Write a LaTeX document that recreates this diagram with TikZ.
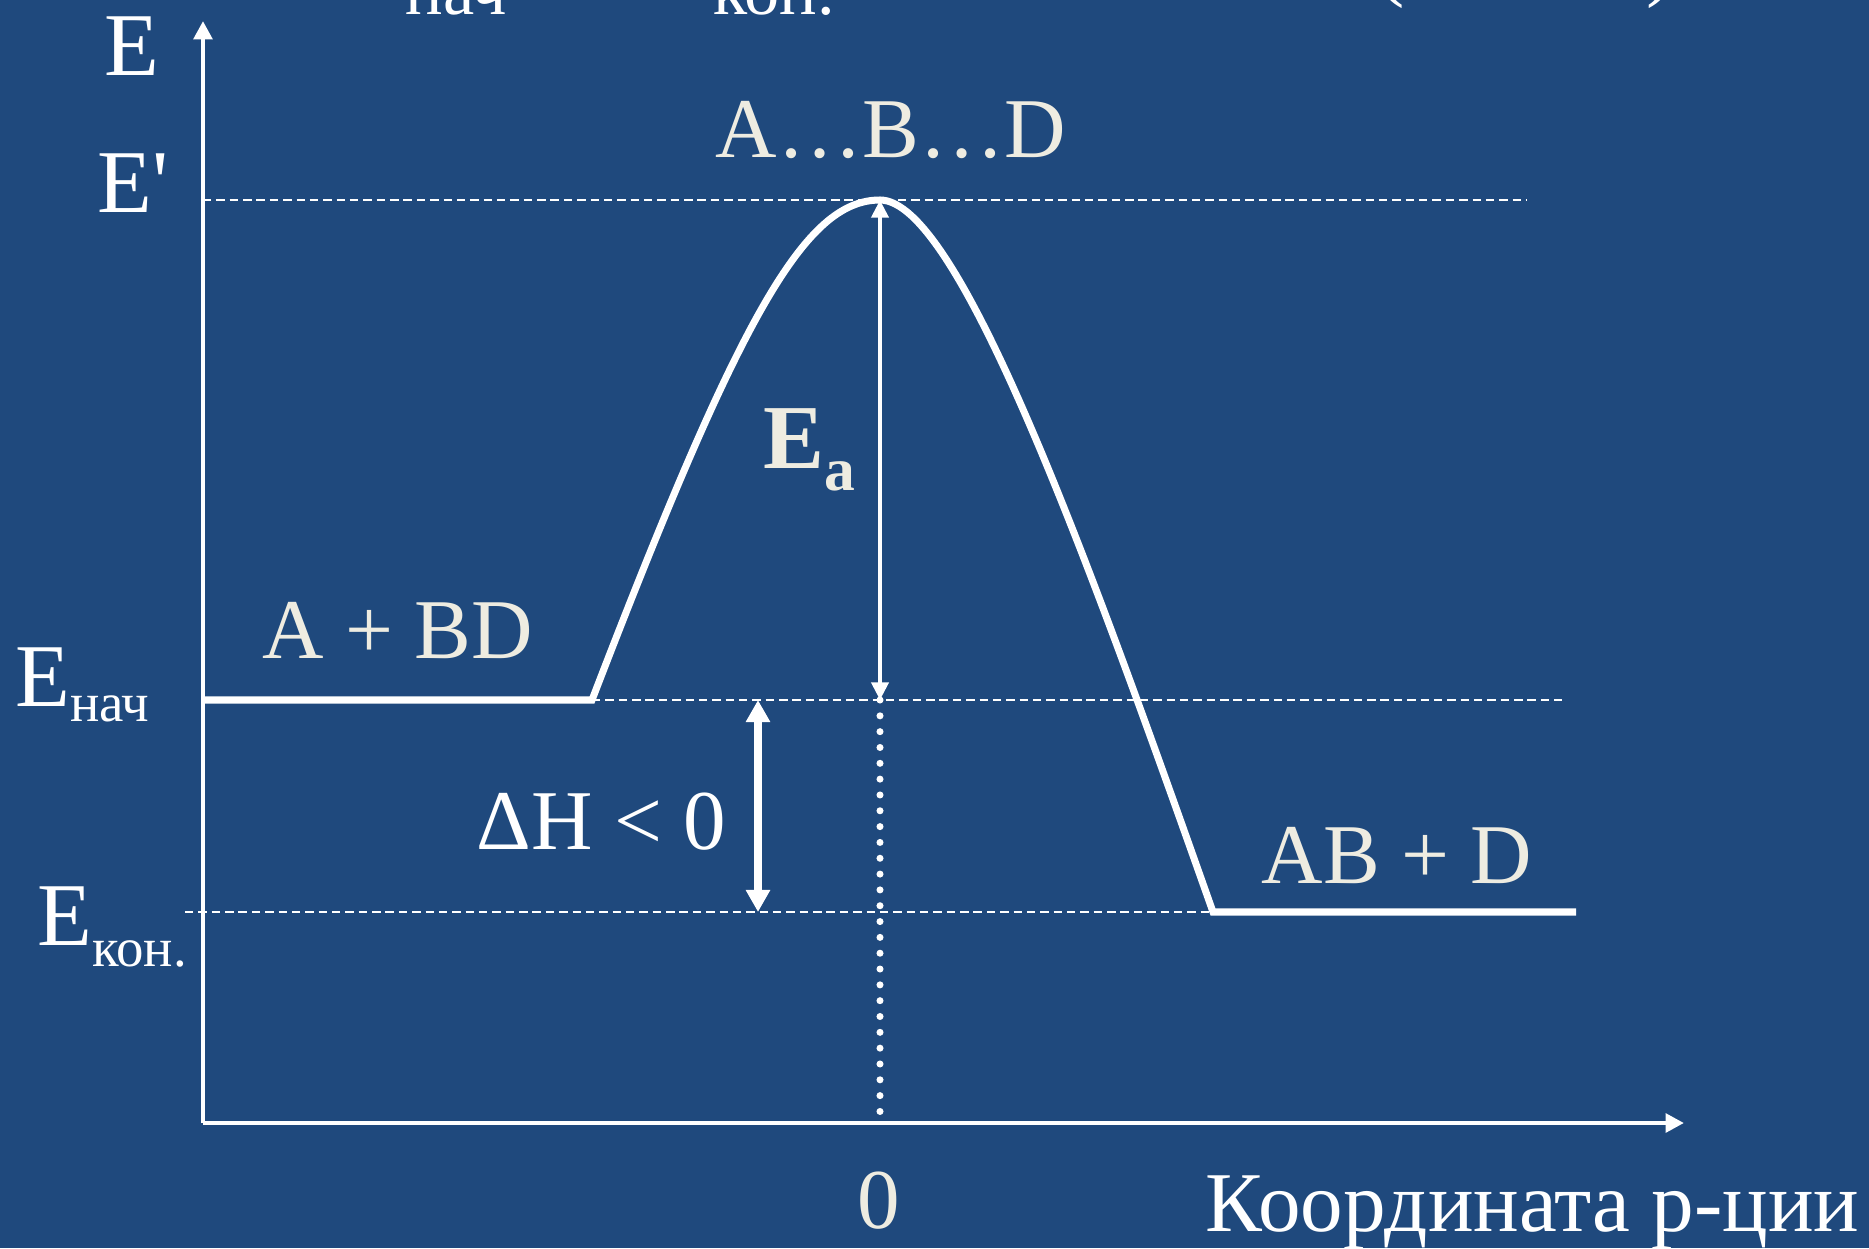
\documentclass[tikz,border=0pt]{standalone}
\usepackage{fontspec}
\setmainfont{Liberation Serif}
\newfontfamily\rawserif[Ligatures=TeXOff]{Liberation Serif}
\usetikzlibrary{arrows.meta}
\definecolor{bg}{HTML}{1F497D}
\definecolor{cream}{HTML}{EEECE1}
\newcommand{\subfnt}{\fontsize{15.6pt}{19pt}\selectfont}
\begin{document}
\begin{tikzpicture}[x=0.01cm,y=-0.01cm,
  axlbl/.style={inner sep=0pt, text=white, font=\fontsize{25.5pt}{30pt}\selectfont},
  spc/.style={inner sep=0pt, text=cream, font=\fontsize{24.2pt}{29pt}\selectfont},
  wlbl/.style={inner sep=0pt, text=white, font=\fontsize{24.2pt}{29pt}\selectfont},
  toptxt/.style={inner sep=0pt, text=white, font=\fontsize{20pt}{24pt}\selectfont},
  guide/.style={white, line width=0.57pt, dash pattern=on 2.4pt off 1.4pt},
  axisline/.style={white, line width=1.3pt, -{Triangle[length=5.2pt,width=5.2pt]}},
  profile/.style={white, line width=2pt},
  eaarrow/.style={white, line width=1.15pt, {Triangle[length=5pt,width=4.8pt]}-{Triangle[length=5pt,width=4.8pt]}},
  dharrow/.style={white, line width=2pt, {Triangle[length=6.3pt,width=6.6pt]}-{Triangle[length=6.3pt,width=6.6pt]}},
  dotline/.style={white, line width=2pt, line cap=round, dash pattern=on 0pt off 4.5pt}
]
\fill[bg] (0,0) rectangle (1869,1248);
\useasboundingbox (0,0) rectangle (1869,1248);

% coordinates
\coordinate (O) at (203,1123);
\coordinate (Ytop) at (203,21);
\coordinate (Xend) at (1684,1123);
\coordinate (Ya) at (203,200);
\coordinate (Gp) at (1526,200);
\coordinate (S0) at (203,700);
\coordinate (S1) at (592,700);
\coordinate (Gn) at (1562,700);
\coordinate (P) at (880,200);
\coordinate (F0) at (1213,912);
\coordinate (F1) at (1576,912);
\coordinate (Gk) at (185,912);
\coordinate (Dtop) at (880,700);
\coordinate (Dbot) at (880,1123);
\coordinate (Hn) at (758,700);
\coordinate (Hk) at (758,912);

% guides
\draw[guide] (Ya) -- (Gp);
\draw[guide] (S1) -- (Gn);
\draw[guide] (Gk) -- (F0);

% dotted vertical
\draw[dotline] (Dtop) -- (Dbot);

% axes
\draw[axisline] (O) -- (Ytop);
\draw[axisline] (O) -- (Xend);

% energy profile
\draw[profile] (S0) -- (S1) .. controls (740,315) and (805,200) .. (P)
  .. controls (958,200) and (1085,550) .. (F0) -- (F1);

% arrows
\draw[eaarrow] (Dtop) -- (P);
\draw[dharrow] (Hn) -- (Hk);

% cut-off text at top (as in the reference)
\node[toptxt, anchor=base west] (tn) at (405,14) {нач};
\node[toptxt, anchor=base west] (tk) at (713,14) {кон.};
\node[wlbl, anchor=base west] (tl) at (1376,-10) {(};
\node[wlbl, anchor=base west] (tr) at (1646,-10) {)};

% axis labels
\node[axlbl, anchor=base west] (E) at (104,75) {E};
\node[axlbl, anchor=base west] (Ep) at (97,212) {E{\rawserif '}};
\node[axlbl, anchor=base west] (En) at (15,706) {E\raisebox{-4.3pt}{\subfnt нач}};
\node[axlbl, anchor=base west] (Ek) at (37,945) {E\raisebox{-6pt}{\subfnt кон.}};

% species labels
\node[spc, anchor=base west] (R) at (262,658) {A + BD};
\node[spc, anchor=base west] (TS) at (715,157) {A…B…D};
\node[spc, anchor=base west] (Pr) at (1261,883) {AB + D};
\node[spc, anchor=base west, font=\fontsize{26pt}{30pt}\selectfont\bfseries] (Ea) at (763,468) {E\raisebox{-6.5pt}{\fontsize{17.5pt}{20pt}\selectfont a}};
\node[wlbl, anchor=base west] (dH) at (476,849) {ΔH < 0};
\node[spc, anchor=base] (zero) at (879,1228) {0};
\node[wlbl, anchor=base west] (xl) at (1205,1231) {Координата р-ции};
\end{tikzpicture}
\end{document}
